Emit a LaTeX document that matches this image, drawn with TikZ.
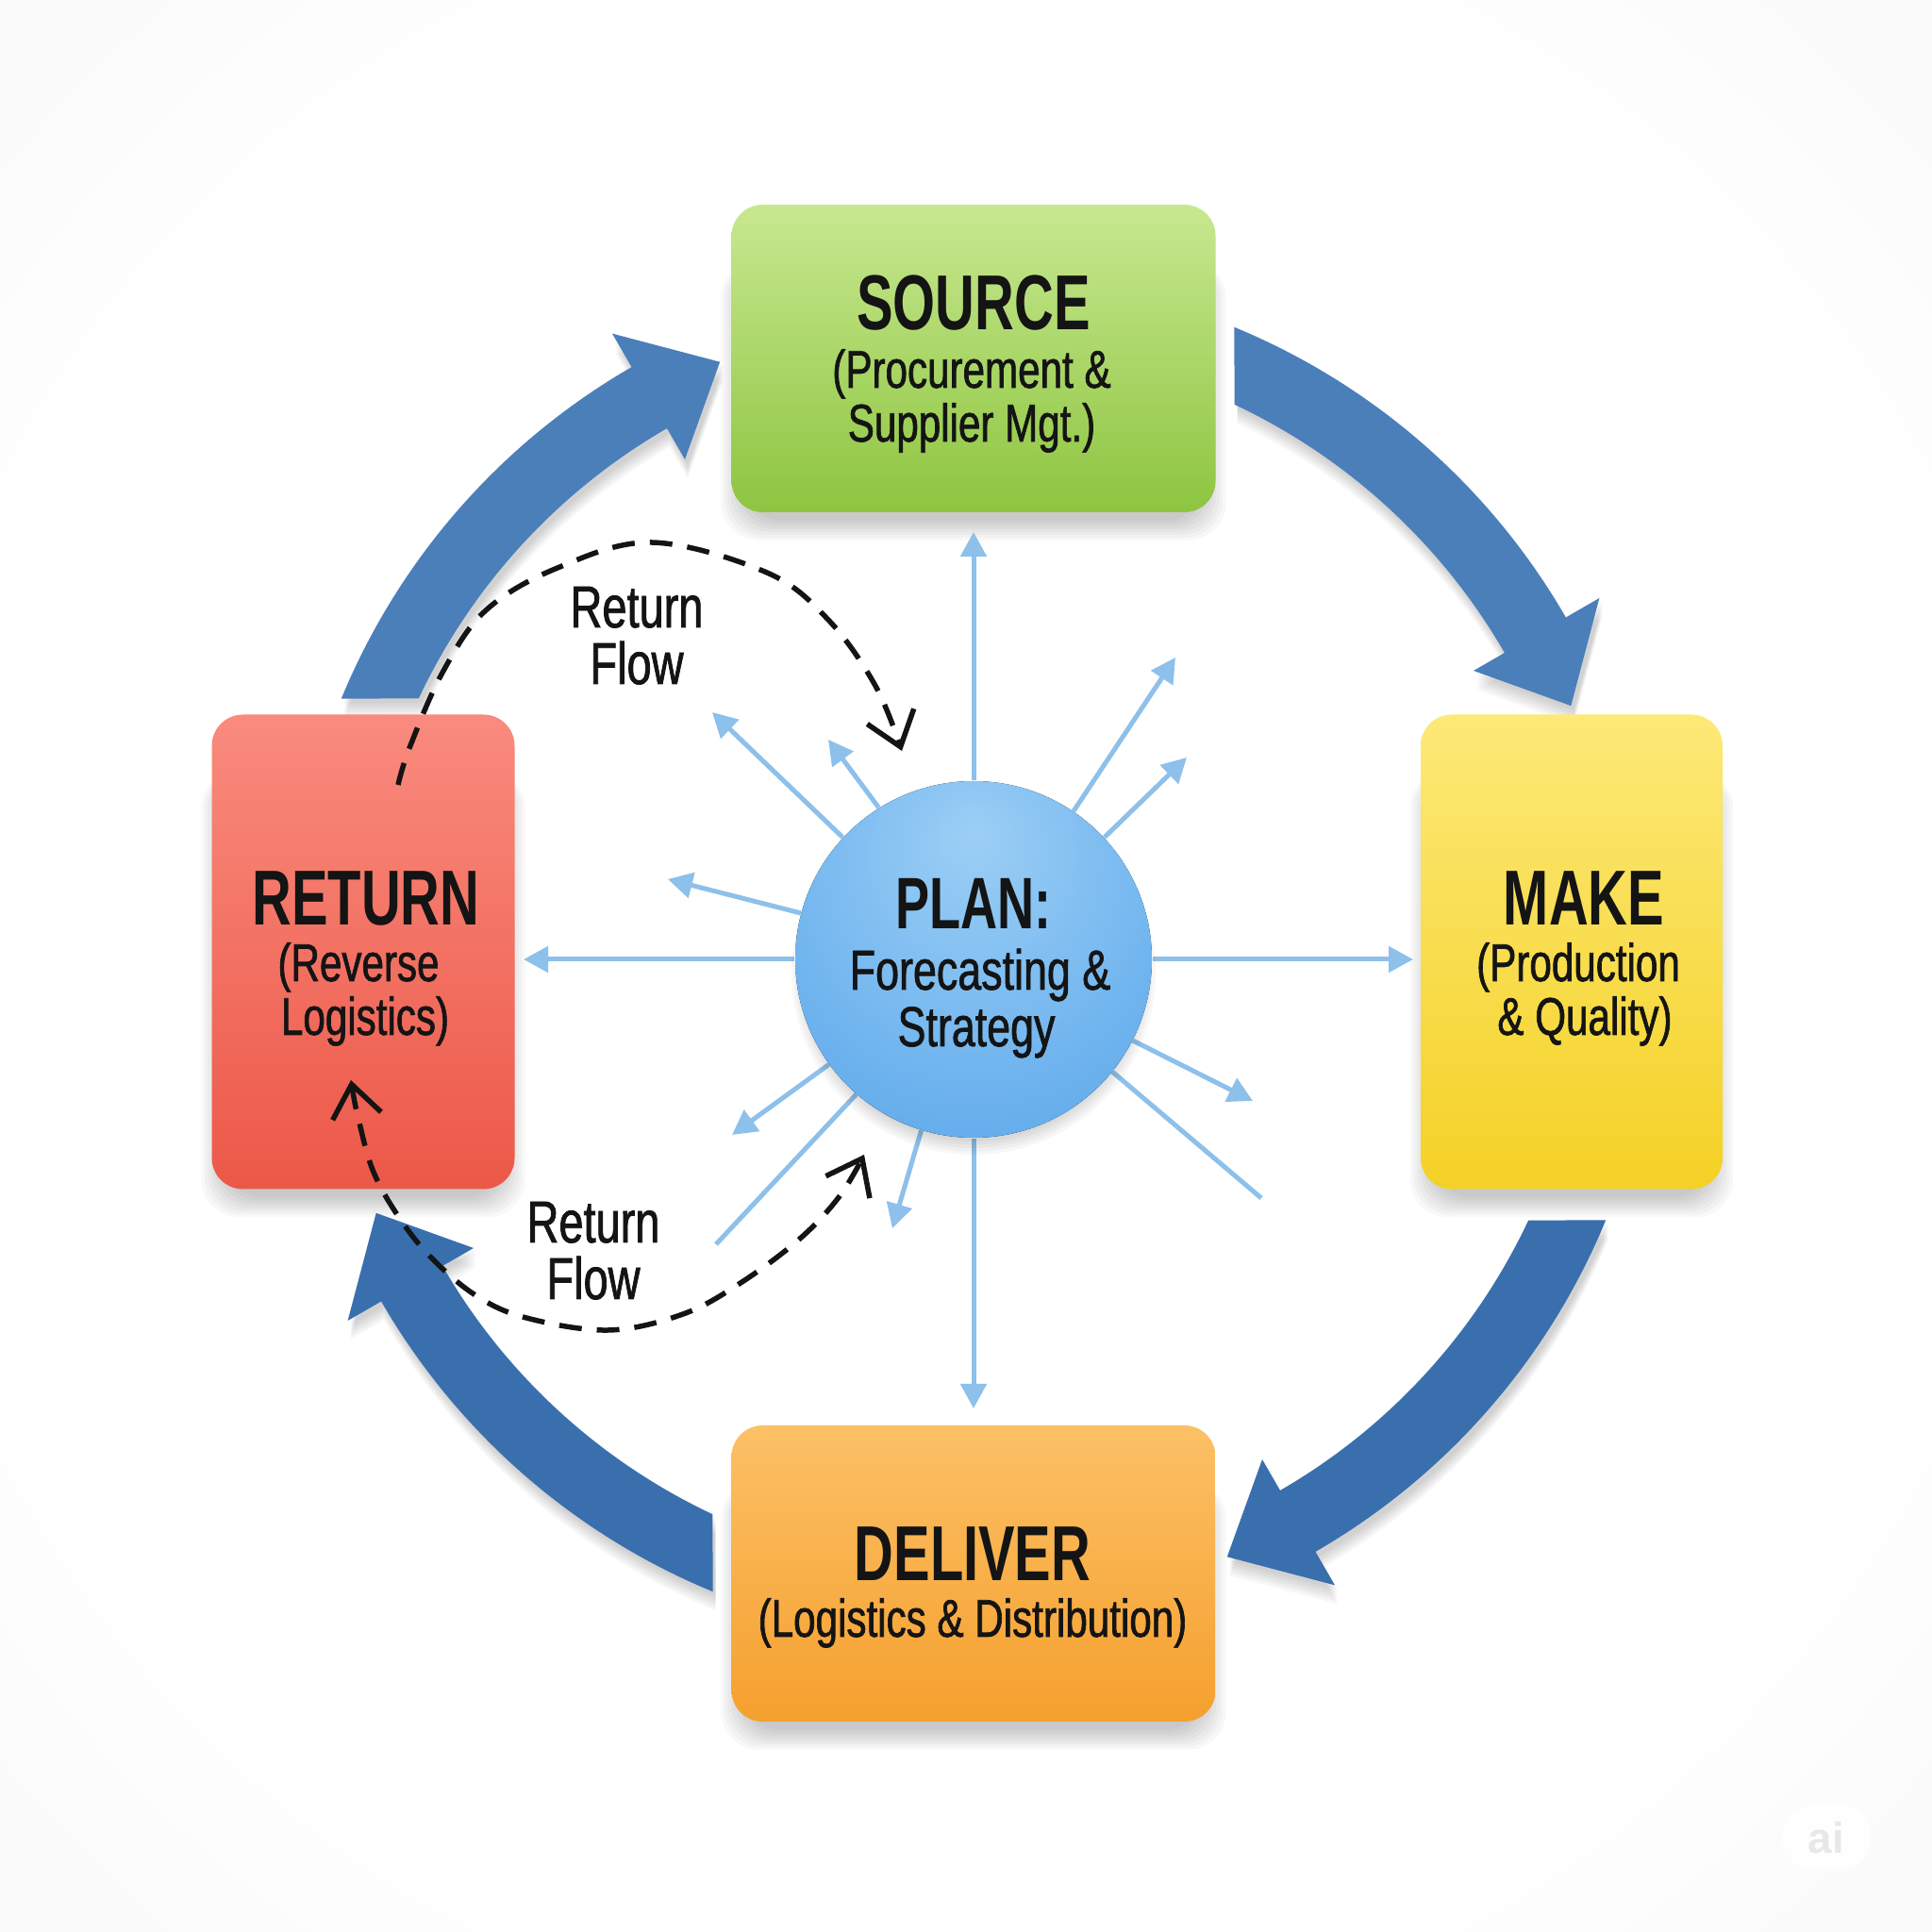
\documentclass[tikz,border=0pt]{standalone}
\usepackage{fontspec}
\setmainfont{Liberation Sans}
\newfontfamily\titlefont{Liberation Sans}[FakeStretch=0.70]
\newfontfamily\subfont{Liberation Sans}[FakeStretch=0.75,FakeBold=1.2]
\usetikzlibrary{arrows.meta,calc}

\definecolor{srcTop}{HTML}{C8E890}
\definecolor{srcBot}{HTML}{8DC540}
\definecolor{makeTop}{HTML}{FDE977}
\definecolor{makeBot}{HTML}{F4D126}
\definecolor{delTop}{HTML}{FCC066}
\definecolor{delBot}{HTML}{F5A02E}
\definecolor{retTop}{HTML}{F98B7E}
\definecolor{retBot}{HTML}{EC5848}
\definecolor{arrA}{HTML}{4A7FBA}
\definecolor{arrB}{HTML}{3A6FAE}
\definecolor{spokeC}{HTML}{8DC0EA}
\definecolor{ink}{HTML}{141414}
\definecolor{planA}{HTML}{9CCFF5}
\definecolor{planB}{HTML}{6CB2EE}
\definecolor{planC}{HTML}{4496E0}
\definecolor{planD}{HTML}{3A8AD6}
\definecolor{bgA}{HTML}{F3F3F3}
\definecolor{bgB}{HTML}{EBEBEB}

\pgfdeclareradialshading{planshade}{\pgfpoint{0bp}{18bp}}{color(0bp)=(planA); color(30bp)=(planB); color(58bp)=(planC); color(72bp)=(planD)}
\pgfdeclareradialshading{bgshade}{\pgfpoint{0bp}{0bp}}{color(0bp)=(white); color(25bp)=(white); color(50bp)=(bgA); color(72bp)=(bgB)}

\pgfdeclarelayer{bglayer}
\pgfdeclarelayer{shadowlayer}
\pgfsetlayers{bglayer,shadowlayer,main}

% curved cycle arrow, drawn round the origin of its (shifted) path
\newcommand\flowarrow[2]{%
  \fill[#2]
   ({#1+67.6}:7.25) arc[start angle={#1+67.6}, end angle={#1+30}, radius=7.25cm]
   -- ({#1+30}:7.66) -- ({#1+23}:6.88) -- ({#1+30}:6.12)
   -- ({#1+30}:6.50) arc[start angle={#1+30}, end angle={#1+64.8}, radius=6.5cm] -- cycle;}

\newcommand\arrowwithshadow[2]{%
  \begin{pgfonlayer}{shadowlayer}
  \foreach \k in {0,...,5}{\flowarrow{#1}{black, opacity=0.03, shift={($(C)+(0.03,-0.05-0.03*\k)$)}}}
  \end{pgfonlayer}
  \flowarrow{#1}{#2, shift={(C)}}}

\newcommand\boxshadow[1]{%
  \begin{pgfonlayer}{shadowlayer}
  \foreach \k in {0,...,7}{
    \fill[black, opacity=0.028, rounded corners=0.4cm]
      ($(#1.south west)+(0.14-0.035*\k,-0.08-0.03*\k)$) rectangle ($(#1.north east)+(-0.14+0.035*\k,-0.6)$);}
  \end{pgfonlayer}}

\begin{document}
\begin{tikzpicture}[
  box/.style={rectangle, rounded corners=0.33cm, inner sep=0pt},
  ttl/.style={inner sep=0pt, text=ink, font=\titlefont\bfseries\fontsize{23.5}{26}\selectfont},
  sub/.style={inner sep=0pt, text=ink, font=\subfont\fontsize{16}{18}\selectfont},
  plansub/.style={inner sep=0pt, text=ink, font=\subfont\fontsize{17}{19}\selectfont},
  flowtxt/.style={inner sep=0pt, text=ink, font=\subfont\fontsize{17.8}{20}\selectfont},
  spoke/.style={draw=spokeC, line width=0.05cm, -{Triangle[length=0.26cm,width=0.27cm]}},
  spokeline/.style={draw=spokeC, line width=0.05cm},
  dashflow/.style={draw=ink, line width=0.055cm, dash pattern=on 0.24cm off 0.16cm},
]
\useasboundingbox (0,0) rectangle (20.48,20.48);
\begin{pgfonlayer}{bglayer}
\shade[shading=bgshade] (0,0) rectangle (20.48,20.48);
\end{pgfonlayer}

\coordinate (C) at (10.32,10.31);

% big cycle arrows
\arrowwithshadow{0}{arrA}
\arrowwithshadow{-90}{arrB}
\arrowwithshadow{-180}{arrB}
\arrowwithshadow{90}{arrA}

% boxes
\node[box, minimum width=5.13cm, minimum height=3.26cm, top color=srcTop, bottom color=srcBot] (source) at (10.32,16.68) {};
\node[box, minimum width=3.20cm, minimum height=5.03cm, top color=makeTop, bottom color=makeBot] (make) at (16.66,10.39) {};
\node[box, minimum width=5.13cm, minimum height=3.14cm, top color=delTop, bottom color=delBot] (deliver) at (10.32,3.80) {};
\node[box, minimum width=3.21cm, minimum height=5.03cm, top color=retTop, bottom color=retBot] (return) at (3.85,10.39) {};
\boxshadow{source}
\boxshadow{make}
\boxshadow{deliver}
\boxshadow{return}

% plan circle (named first for spokes)
\node[circle, minimum size=3.78cm, inner sep=0pt] (plan) at (C) {};

% spoke end points
\coordinate (eN) at (10.32,14.84);
\coordinate (eS) at (10.32,5.55);
\coordinate (eW) at (5.55,10.31);
\coordinate (eE) at (14.98,10.31);
\coordinate (e1) at (7.55,12.93);
\coordinate (e2) at (8.78,12.64);
\coordinate (e3) at (7.08,11.16);
\coordinate (e4) at (12.46,13.51);
\coordinate (e5) at (12.58,12.45);
\coordinate (e6) at (13.28,8.81);
\coordinate (e7) at (7.76,8.45);
\coordinate (e8) at (7.59,7.29);
\coordinate (e9) at (13.37,7.78);
\coordinate (e10) at (9.46,7.46);

\draw[spoke] (plan.north) -- (eN);
\draw[spoke] (plan.south) -- (eS);
\draw[spoke] (plan.west) -- (eW);
\draw[spoke] (plan.east) -- (eE);
\draw[spoke] (plan.137) -- (e1);
\draw[spoke] (plan.122) -- (e2);
\draw[spoke] (plan.165.5) -- (e3);
\draw[spoke] (plan.56.5) -- (e4);
\draw[spoke] (plan.43) -- (e5);
\draw[spoke] (plan.-27.5) -- (e6);
\draw[spoke] (plan.216) -- (e7);
\draw[spokeline] (plan.229) -- (e8);
\draw[spokeline] (plan.-39.5) -- (e9);
\draw[spoke] (plan.253.4) -- (e10);

% plan ball with soft shadow
\foreach \k in {0,...,6}{
  \fill[black, opacity=0.03] ($(plan.center)+(0,-0.14)$) circle[radius={(1.72+0.035*\k)*1cm}];}
\fill[shading=planshade] (plan.center) circle[radius=1.89cm];

% dashed return flows
\draw[dashflow, -{Straight Barb[length=0.34cm,width=0.52cm]}]
  plot[smooth, tension=0.6] coordinates {(4.22,12.16) (4.34,12.55) (4.69,13.35) (5.15,14.01) (5.91,14.46) (6.91,14.73) (8.13,14.41) (8.78,13.91) (9.28,13.21) (9.56,12.52)};
\draw[dashflow, {Straight Barb[length=0.34cm,width=0.52cm]}-{Straight Barb[length=0.34cm,width=0.52cm]}]
  plot[smooth, tension=0.6] coordinates {(3.72,9.03) (3.80,8.62) (3.95,8.08) (4.20,7.62) (4.55,7.17) (5.04,6.75) (5.58,6.51) (6.45,6.38) (7.24,6.55) (7.85,6.88) (8.48,7.35) (8.90,7.80) (9.16,8.24)};

% texts
\node[ttl, anchor=base] (srcT) at (10.32,16.98) {SOURCE};
\node[sub, anchor=base] (srcS1) at (10.30,16.37) {(Procurement \&};
\node[sub, anchor=base] (srcS2) at (10.30,15.80) {Supplier Mgt.)};

\node[ttl, anchor=base] (makeT) at (16.79,10.67) {MAKE};
\node[sub, anchor=base] (makeS1) at (16.73,10.08) {(Production};
\node[sub, anchor=base] (makeS2) at (16.80,9.51) {\& Quality)};

\node[ttl, anchor=base] (delT) at (10.31,3.73) {DELIVER};
\node[sub, anchor=base] (delS1) at (10.31,3.13) {(Logistics \& Distribution)};

\node[ttl, anchor=base] (retT) at (3.88,10.67) {RETURN};
\node[sub, anchor=base] (retS1) at (3.80,10.08) {(Reverse};
\node[sub, anchor=base] (retS2) at (3.87,9.51) {Logistics)};

\node[ttl, anchor=base, font=\titlefont\bfseries\fontsize{22}{24}\selectfont] (planT) at (10.32,10.63) {PLAN:};
\node[plansub, anchor=base] (planS1) at (10.39,9.99) {Forecasting \&};
\node[plansub, anchor=base] (planS2) at (10.35,9.39) {Strategy};

\node[flowtxt, anchor=base] (rf1a) at (6.75,13.83) {Return};
\node[flowtxt, anchor=base] (rf1b) at (6.75,13.23) {Flow};
\node[flowtxt, anchor=base] (rf2a) at (6.29,7.31) {Return};
\node[flowtxt, anchor=base] (rf2b) at (6.29,6.71) {Flow};

% watermark
\node[rectangle, rounded corners=0.35cm, minimum width=0.95cm, minimum height=0.70cm, inner sep=0pt, fill=white, fill opacity=0.8, text opacity=1, text=black!9, font=\bfseries\fontsize{13}{14}\selectfont] (wm) at (19.36,1.00) {ai};
\end{tikzpicture}
\end{document}
